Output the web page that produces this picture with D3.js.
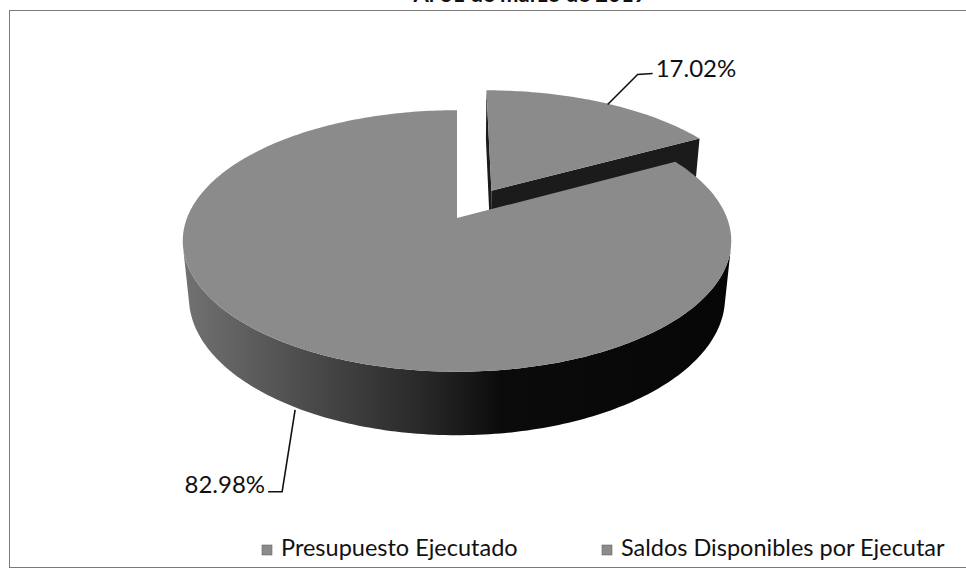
<!DOCTYPE html>
<html>
<head>
<meta charset="utf-8">
<script src="https://cdn.jsdelivr.net/npm/d3@7"></script>
<style>
  body { margin: 0; background: #fff; }
  text { font-family: Lato, "Open Sans", sans-serif; fill: #111; }
</style>
</head>
<body>
<svg id="chart" width="966" height="577"></svg>
<script>
// data
var categories = ["Presupuesto Ejecutado", "Saldos Disponibles por Ejecutar"];
var values = [17.02, 82.98];
var labels = ["17.02%", "82.98%"];
var explode = [0.26, 0];
var title = "Al 31 de marzo de 2019";

var svg = d3.select("#chart");

// 3d view of the pie (radius = 1)
var cx = 457, cy = 218;
var D = 5.03, f = 1358, tilt = 28 * Math.PI / 180, h = 0.24;
var cosT = Math.cos(tilt), sinT = Math.sin(tilt);
var cam = [0, D * sinT, D * cosT];

function depth(p) { return D - (p[2] * cosT + p[1] * sinT); }
function proj(p) {
  var yc = p[1] * cosT - p[2] * sinT;
  var d = depth(p);
  return [cx + f * p[0] / d, cy - f * yc / d];
}
function rim(a, y, o) { return [o[0] + Math.sin(a), y, o[1] - Math.cos(a)]; }
function faces(n, p) {
  return n[0] * (cam[0] - p[0]) + n[1] * (cam[1] - p[1]) + n[2] * (cam[2] - p[2]) > 0;
}

var arcs = d3.pie().sort(null).value(d => d)(values);
arcs.forEach(function(a, i) {
  a.mid = (a.startAngle + a.endAngle) / 2;
  a.off = [explode[i] * Math.sin(a.mid), -explode[i] * Math.cos(a.mid)];
  a.angles = d3.range(0, 1.0001, 1 / Math.max(8, Math.ceil((a.endAngle - a.startAngle) * 180 / Math.PI)))
    .map(t => a.startAngle + t * (a.endAngle - a.startAngle));
});

var line = d3.line();
var defs = svg.append("defs");

var left = cx - f / D - 5, right = cx + f / D + 5;
var grad = defs.append("linearGradient").attr("id", "wall")
  .attr("gradientUnits", "userSpaceOnUse")
  .attr("x1", left).attr("x2", right).attr("y1", 0).attr("y2", 0);
[[0, "#727272"], [0.2, "#505050"], [0.45, "#262626"], [0.58, "#0b0b0b"], [1, "#060606"]]
  .forEach(s => grad.append("stop").attr("offset", s[0]).attr("stop-color", s[1]));

// frame
svg.append("rect")
  .attr("x", 9.5).attr("y", 10.5).attr("width", 980).attr("height", 557)
  .attr("fill", "none").attr("stroke", "#7a7a7a");

// title sits mostly above the visible area, as in the scan
svg.append("text")
  .attr("x", 530).attr("y", 1.5)
  .attr("text-anchor", "middle")
  .style("font-size", "22px").style("font-weight", "bold")
  .text(title);

// side faces
var sides = [];
arcs.forEach(function(a) {
  var o = a.off;
  var run = [];
  function flush() {
    if (run.length > 1) {
      var top = run.map(t => rim(t, 0, o));
      var bot = run.map(t => rim(t, -h, o)).reverse();
      var pts = top.concat(bot);
      sides.push({ pts: pts, fill: "url(#wall)", d: d3.mean(pts, depth) });
    }
    run = [];
  }
  for (var k = 0; k < a.angles.length - 1; k++) {
    var m = (a.angles[k] + a.angles[k + 1]) / 2;
    var n = [Math.sin(m), 0, -Math.cos(m)];
    if (faces(n, rim(m, -h / 2, o))) {
      if (!run.length) run.push(a.angles[k]);
      run.push(a.angles[k + 1]);
    } else flush();
  }
  flush();

  [[a.startAngle, -1], [a.endAngle, 1]].forEach(function(e) {
    var n = [e[1] * Math.cos(e[0]), 0, e[1] * Math.sin(e[0])];
    var c0 = [o[0], 0, o[1]], c1 = [o[0], -h, o[1]];
    var r0 = rim(e[0], 0, o), r1 = rim(e[0], -h, o);
    var pts = [c0, r0, r1, c1];
    var mid = [(o[0] + r0[0]) / 2, -h / 2, (o[1] + r0[2]) / 2];
    if (faces(n, mid)) sides.push({ pts: pts, fill: "#1b1b1b", d: d3.mean(pts, depth) });
  });
});

sides.sort((a, b) => b.d - a.d);
svg.append("g").selectAll("path")
  .data(sides)
  .join("path")
  .attr("d", s => line(s.pts.map(proj)) + "Z")
  .attr("fill", s => s.fill);

// top faces
svg.append("g").selectAll("path")
  .data(arcs)
  .join("path")
  .attr("d", function(a) {
    var pts = [[a.off[0], 0, a.off[1]]].concat(a.angles.map(t => rim(t, 0, a.off)));
    return line(pts.map(proj)) + "Z";
  })
  .attr("fill", "#8b8b8b");

// data labels with leader lines
var leader = [
  { at: a => rim(a.mid, 0, a.off), pts: [[5, 2], [35, -28], [50, -29]], tx: 53, ty: 3, anchor: "start" },
  { at: a => rim(a.mid, -h, a.off), pts: [[-4, 1], [-17, 83], [-31, 83]], tx: -34, ty: 1, anchor: "end" }
];
var lg = svg.append("g");
arcs.forEach(function(a, i) {
  var L = leader[i];
  var p = proj(L.at(a));
  var pts = L.pts.map(q => [p[0] + q[0], p[1] + q[1]]);
  var last = pts[pts.length - 1];
  lg.append("path")
    .attr("d", line(pts))
    .attr("fill", "none").attr("stroke", "#111").attr("stroke-width", 1.6);
  lg.append("text")
    .attr("x", p[0] + L.tx).attr("y", last[1] + L.ty)
    .attr("text-anchor", L.anchor)
    .style("font-size", "24px")
    .text(labels[i]);
});

// legend
var legendX = [262, 602];
var legend = svg.append("g").selectAll("g")
  .data(categories)
  .join("g")
  .attr("transform", (d, i) => `translate(${legendX[i]},545)`);
legend.append("rect")
  .attr("width", 10).attr("height", 10)
  .attr("fill", "#8b8b8b").attr("stroke", "#666").attr("stroke-width", 0.6);
legend.append("text")
  .attr("x", 19).attr("y", 11)
  .style("font-size", "23.5px")
  .text(d => d);
</script>
</body>
</html>
